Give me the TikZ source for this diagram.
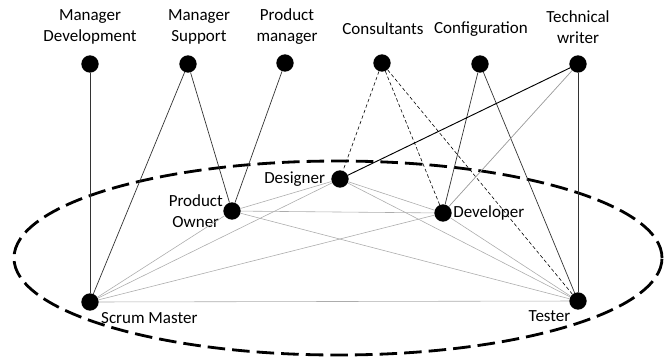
\documentclass[tikz,border=0pt]{standalone}
\usepackage{fontspec}
\setmainfont{Carlito}
\usepackage{tikz}

\tikzset{
  member/.style={circle, fill=black, inner sep=0pt, minimum size=0.52cm},
  role/.style={font=\fontsize{14.5}{18}\selectfont, align=center, inner sep=1pt},
  team/.style={gray!65, line width=0.5pt},
  link/.style={black!80, line width=0.6pt},
  advice/.style={black, dash pattern=on 3pt off 2pt, line width=0.5pt},
  fence/.style={black, line width=2.4pt, dash pattern=on 15pt off 6pt}
}

\begin{document}
\begin{tikzpicture}[x=0.03cm, y=-0.03cm]
\useasboundingbox (0,0) rectangle (669,356);

% the team boundary
\draw[fence] (338,258) ellipse (9.72cm and 2.91cm);

% stakeholders outside the team
\node[member] (mdev) at (90,64) {};
\node[member] (msup) at (188,64) {};
\node[member] (pman) at (285,63) {};
\node[member] (cons) at (382,63) {};
\node[member] (conf) at (480,64) {};
\node[member] (twri) at (578,64) {};

\node[role] (mdevtxt) at (90,27) {Manager\\Development};
\node[role] (msuptxt) at (199,27) {Manager\\Support};
\node[role] (pmantxt) at (287,27) {Product\\manager};
\node[role] (constxt) at (383,29) {Consultants};
\node[role] (conftxt) at (481,29) {Configuration};
\node[role] (twritxt) at (578,27) {Technical\\writer};

% the team
\node[member, label={[role, label distance=4pt]left:Designer}] (des) at (340,179) {};
\node[member, label={[role, xshift=1pt]left:Product\\Owner}] (po) at (232,211) {};
\node[member, label={[role]right:Developer}] (dev) at (443,213) {};
\node[member, label={[role, xshift=3pt, yshift=-2pt]below right:Scrum Master}] (sm) at (90,302) {};
\node[member, label={[role, yshift=-2pt]below left:Tester}] (tst) at (578,301) {};

% links inside the team
\foreach \a/\b in {des/po, des/dev, des/sm, des/tst, po/dev, po/sm, po/tst, dev/sm, dev/tst, sm/tst}
  \draw[team] (\a) -- (\b);

% links from outside
\draw[link] (mdev) -- (sm);
\draw[link] (msup) -- (sm);
\draw[link] (msup) -- (po);
\draw[link] (pman) -- (po);
\foreach \t in {des, dev, tst}
  \draw[advice] (cons) -- (\t);
\draw[link] (conf) -- (dev);
\draw[link] (conf) -- (tst);
\draw[black, line width=0.8pt] (twri) -- (des);
\draw[gray!80, line width=0.6pt] (twri) -- (dev);
\draw[link] (twri) -- (tst);
\end{tikzpicture}
\end{document}
